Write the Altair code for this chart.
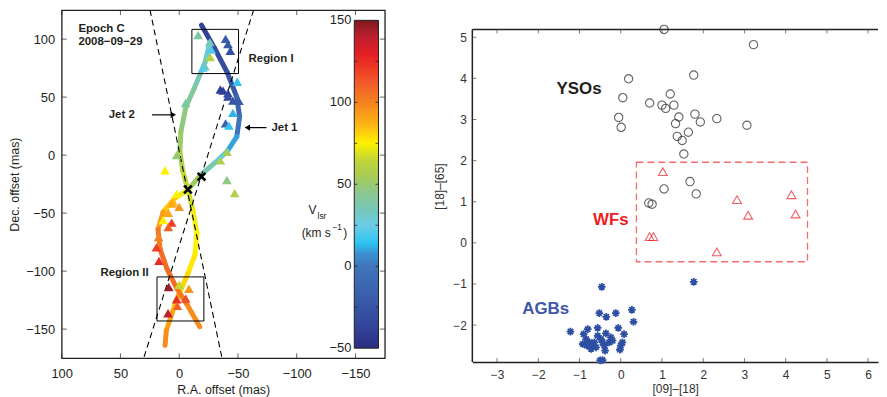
import altair as alt
import pandas as pd

FONT = "Liberation Sans"

# ---------------- Left panel data ----------------
ra_ticks = [100, 50, 0, -50, -100, -150]
dec_ticks = [100, 50, 0, -50, -100, -150]
v_ticks = [-50, 0, 50, 100, 150]
v_bar_ticks = [-25, 0, 25, 50, 75, 100, 125]

jet1_ra = [-19.0, -30.2, -41, -49, -51.4, -49, -41, -30, -17.5, -7.4, -11.6, -15, -13.5, -7.5, 0, 6, 11, 12]
jet1_dec = [112, 92, 71, 50, 33, 16, 3.4, -7, -18, -30, -47, -67, -85.5, -102, -119, -136, -151.5, -164]
jet1_v = [-42, -35, -28, -18, -8, 5, 15, 30, 45, 62, 72, 75, 76, 78, 82, 90, 95, 100]

jet2_ra = [-26, -22, -13, -5.7, -1.4, -0.6, -3, -7.4, 3.6, 13.7, 18, 16.3, 10.4, 2, -7.4, -17.5]
jet2_dec = [97, 80, 58, 41.5, 20, 3.4, -13.5, -30, -37, -49, -64, -81, -98, -115, -130, -148]
jet2_v = [28, 32, 40, 45, 50, 55, 60, 68, 76, 88, 98, 105, 108, 105, 100, 95]

tri_ra = [-16.1, -26.0, -27.4, -39.5, -41.5, -43.5, -26.3, -21.8, -20.3, -49.4,
          -35.0, -37.3, -41.5, -41.5, -45.7, -50.8, -45.7, -39.5, -42.3, -5.4,
          2.2, -40.6, -35.0, 12.1, -40.6, -47.2,
          2.2, 5.0, 6.4, 0.0, 9.3, 13.7, 6.4, 9.3, 17.5, 19.4, 17.2,
          8.9, 0.0, -8.3, 2.2, -5.5, 1.5, 9.5]
tri_dec = [103.6, 97.4, 90.9, 100.2, 95.7, 90.0, 84.5, 76.8, 75.4, 63.2,
           56.5, 55.6, 53.3, 50.5, 47.0, 46.8, 36.4, 27.4, 25.4, 44.9,
           0.0, 2.8, -4.5, -13.0, -21.4, -32.8,
           -33.3, -40.4, -41.7, -44.6, -49.7, -56.0, -58.2, -62.0, -70.7, -79.5, -91.2,
           -113.7, -111.8, -115.2, -124.3, -123.6, -130.0, -136.3]
tri_v = [40, 35, 20, -20, -25, -30, 60, 35, 20, 15,
         -40, -40, -35, -30, -25, -20, 12, -15, 15, 40,
         50, 55, 58, 75, 48, 58,
         75, 85, 90, 95, 90, 75, 120, 110, 100, 120, 125,
         145, 65, 95, 125, 115, 110, 140]

cone_id = ["a", "a", "b", "b"]
cone_ra = [24.8, -36.2, -63.3, 29.9]
cone_dec = [125, -174, 125, -174]

cross_ra = [-7.4, -19.0]
cross_dec = [-29.6, -18.6]

box_ra1 = [-10.8, 18.9]
box_ra2 = [-50.5, -21.0]
box_dec1 = [108.4, -105.0]
box_dec2 = [70.3, -143.0]

# jet-like colormap stops
cmap_v = [-50, -35, -15, 0, 8, 14, 25, 35, 45, 55, 65, 75, 85, 100, 112, 122, 130, 140, 150]
cmap_c = ["#2b2e83", "#34479c", "#3b63ae", "#3f76ba", "#3a94d2", "#2cc3f1", "#6ccde6",
          "#76c7b6", "#8cc78f", "#a8cb55", "#c4d636", "#fff200", "#fdbb13", "#f58220",
          "#f15a29", "#ee3524", "#e31e25", "#bd1f2d", "#7d1a1d"]

# ---------------- Right panel data ----------------
x_ticks = [-3, -2, -1, 0, 1, 2, 3, 4, 5, 6]
y_ticks = [-2, -1, 0, 1, 2, 3, 4, 5]

yso_x = [1.05, 3.22, 1.77, 0.19, 0.05, 1.20, 0.70, 1.00, 1.29, 1.09, -0.05, 0.01, 1.41, 1.80,
         1.33, 1.93, 2.33, 3.06, 1.64, 1.37, 1.49, 1.53, 1.68, 1.05, 1.83, 0.68, 0.76]
yso_y = [5.19, 4.82, 4.08, 3.99, 3.53, 3.62, 3.40, 3.35, 3.35, 3.27, 3.05, 2.81, 3.06, 3.13,
         2.90, 2.94, 3.02, 2.86, 2.69, 2.59, 2.49, 2.16, 1.49, 1.31, 1.19, 0.97, 0.94]

wf_x = [1.02, 2.82, 4.14, 3.09, 4.24, 0.70, 0.79, 2.33]
wf_y = [1.73, 1.05, 1.17, 0.67, 0.70, 0.15, 0.15, -0.22]

agb_x = [-0.46, 0.27, -0.52, -0.35, -0.12, 0.31, -1.22, -0.80, -0.56, -0.06, -0.90, 0.08,
         -0.36, -0.84, -0.76, -0.82, -0.68, -0.60, -0.72, -0.56, -0.48, -0.44, -0.40, -0.38,
         -0.24, -0.20, -0.28, 0.04, 0.00, -0.02, -0.50, -0.44, -0.92, -0.64, 1.77]
agb_y = [-1.07, -1.63, -1.71, -1.80, -1.71, -1.92, -2.16, -2.10, -2.07, -2.07, -2.22, -2.22,
         -2.20, -2.34, -2.42, -2.50, -2.50, -2.54, -2.58, -2.26, -2.34, -2.42, -2.50, -2.62,
         -2.30, -2.38, -2.42, -2.42, -2.50, -2.60, -2.86, -2.85, -2.46, -2.42, -0.95]

wf_box_x = [0.38, 4.53]
wf_box_y = [1.96, -0.46]

# ---------------- Left panel ----------------
XD = [100, -175]
YD = [-175, 125]
VD = [-56.07, 156.25]          # vertical placement of the colour bar inside the frame
BAR_X = [-149.0, -169.6]       # colour bar edges (R.A. units)
BAR_LABEL_X = -146.5
xs = alt.Scale(domain=XD, nice=False, zero=False)
ys = alt.Scale(domain=YD, nice=False, zero=False)
vs = alt.Scale(domain=VD, nice=False, zero=False)
xaxis = alt.Axis(values=ra_ticks, title="R.A. offset (mas)", ticks=False, grid=False, domain=False,
                 labelFont=FONT, titleFont=FONT, labelFontSize=13, titleFontSize=12.5,
                 labelColor="#231f20", titleColor="#231f20", labelPadding=9, titlePadding=4,
                 titleFontWeight="normal", labelFlush=False)
yaxis = alt.Axis(values=dec_ticks, title="Dec. offset (mas)", ticks=False, grid=False, domain=False,
                 labelFont=FONT, titleFont=FONT, labelFontSize=13, titleFontSize=12.5,
                 labelColor="#231f20", titleColor="#231f20", labelPadding=7, titlePadding=4,
                 titleFontWeight="normal", labelFlush=False)


def LX(f="x"):
    return alt.X(f, type="quantitative", scale=xs, axis=xaxis)


def LY(f="y"):
    return alt.Y(f, type="quantitative", scale=ys, axis=yaxis)


def VY(f="v"):
    return alt.Y(f, type="quantitative", scale=vs, axis=None)


cscale = alt.Scale(domain=cmap_v, range=cmap_c, clamp=True)

segs = []
for name, ra, dec, v in [("j1", jet1_ra, jet1_dec, jet1_v), ("j2", jet2_ra, jet2_dec, jet2_v)]:
    for i in range(len(ra) - 1):
        segs.append(dict(x=ra[i], y=dec[i], x2=ra[i + 1], y2=dec[i + 1], v=(v[i] + v[i + 1]) / 2, jet=name))
seg_df = pd.DataFrame(segs)

curves = alt.Chart(seg_df).mark_rule(strokeWidth=5, strokeCap="round").encode(
    x=LX(), y=LY(), x2="x2", y2="y2",
    stroke=alt.Stroke("v:Q", scale=cscale, legend=None))

cone_df = pd.DataFrame(dict(x=cone_ra, y=cone_dec, id=cone_id))
cones = alt.Chart(cone_df).mark_line(color="black", strokeWidth=1.1, strokeDash=[6, 4], clip=True).encode(
    x=LX(), y=LY(), detail="id:N")

tri_df = pd.DataFrame(dict(x=tri_ra, y=tri_dec, v=tri_v))
tris = alt.Chart(tri_df).mark_point(shape="triangle-up", filled=True, size=95, opacity=1, strokeWidth=0).encode(
    x=LX(), y=LY(), fill=alt.Fill("v:Q", scale=cscale, legend=None))

cross_df = pd.DataFrame(dict(x=cross_ra, y=cross_dec))
crosses = alt.Chart(cross_df).mark_point(shape="M-1,-1L1,1M-1,1L1,-1", size=60, color="black",
                                         strokeWidth=2.6, filled=False, opacity=1).encode(x=LX(), y=LY())

box_df = pd.DataFrame(dict(x=box_ra1, x2=box_ra2, y=box_dec1, y2=box_dec2))
boxes = alt.Chart(box_df).mark_rect(fill=None, stroke="black", strokeWidth=1).encode(
    x=LX(), x2="x2", y=LY(), y2="y2")

txt = pd.DataFrame(dict(
    x=[85.8, 85.8, -59, 67, 60, -78.5],
    y=[109, 97.2, 83, -101.6, 34.7, 23.7],
    t=["Epoch C", "2008\u221209\u221229", "Region I", "Region II", "Jet 2", "Jet 1"]))
texts = alt.Chart(txt).mark_text(align="left", baseline="middle", font=FONT, fontSize=11.5,
                                 fontWeight="bold", color="#231f20").encode(x=LX(), y=LY(), text="t:N")

arr_df = pd.DataFrame(dict(x=[23.1, -74.3], x2=[5.5, -58.5], y=[34.7, 23.7]))
arr_lines = alt.Chart(arr_df).mark_rule(color="black", strokeWidth=1.2).encode(x=LX(), x2="x2", y=LY())
head_df = pd.DataFrame(dict(x=[5.0, -58.0], y=[34.7, 23.7], s=["triangle-right", "triangle-left"]))
heads = alt.Chart(head_df).mark_point(filled=True, size=40, color="black", opacity=1).encode(
    x=LX(), y=LY(), shape=alt.Shape("s:N", scale=None))

cb_df = pd.DataFrame(dict(x=[-110.1, -104.2, -139.7], y=[-47.3, -67.0, -67.0], t=["V", "(km s", ")"]))
cb_title = alt.Chart(cb_df).mark_text(align="left", baseline="middle", font=FONT, fontSize=12,
                                      color="#231f20").encode(x=LX(), y=LY(), text="t:N")
cb_sub = pd.DataFrame(dict(x=[-117.7, -130.4], y=[-52.4, -61.9], t=["lsr", "\u22121"]))
cb_sub_t = alt.Chart(cb_sub).mark_text(align="left", baseline="middle", font=FONT, fontSize=8.5,
                                       color="#231f20").encode(x=LX(), y=LY(), text="t:N")

# inward ticks on the four sides of the frame
lt_bot = pd.DataFrame(dict(x=ra_ticks, y=[YD[0]] * len(ra_ticks)))
lt_top = pd.DataFrame(dict(x=ra_ticks, y=[YD[1]] * len(ra_ticks)))
lt_left = pd.DataFrame(dict(x=[XD[0]] * len(dec_ticks), y=dec_ticks))
lt_right = pd.DataFrame(dict(x=[XD[1]] * len(dec_ticks), y=dec_ticks))
ltk = dict(color="#231f20", size=5, thickness=1)
l_ticks = [
    alt.Chart(lt_bot).mark_tick(orient="vertical", yOffset=-2.5, **ltk).encode(x=LX(), y=LY()),
    alt.Chart(lt_top).mark_tick(orient="vertical", yOffset=2.5, **ltk).encode(x=LX(), y=LY()),
    alt.Chart(lt_left).mark_tick(orient="horizontal", xOffset=2.5, **ltk).encode(x=LX(), y=LY()),
    alt.Chart(lt_right).mark_tick(orient="horizontal", xOffset=-2.5, **ltk).encode(x=LX(), y=LY()),
]

main = alt.layer(curves, cones, tris, crosses, boxes, texts, arr_lines, heads, cb_title, cb_sub_t, *l_ticks)

# colour bar (gradient filled rectangle built from the colormap stops)
span = cmap_v[-1] - cmap_v[0]
grad = alt.Gradient(gradient="linear", x1=0, x2=0, y1=1, y2=0,
                    stops=[alt.GradientStop(offset=(v - cmap_v[0]) / span, color=c)
                           for v, c in zip(cmap_v, cmap_c)])
bar_df = pd.DataFrame(dict(x=[BAR_X[0]], x2=[BAR_X[1]], v=[cmap_v[0]], v2=[cmap_v[-1]]))
bar = alt.Chart(bar_df).mark_rect(fill=grad, strokeWidth=0).encode(
    x=LX(), x2="x2", y=VY(), y2="v2")
bar_edge = alt.Chart(bar_df).mark_rect(fill=None, stroke="#231f20", strokeWidth=1).encode(
    x=LX(), x2="x2", y=VY(), y2="v2")
bl_df = pd.DataFrame(dict(x=[BAR_LABEL_X] * len(v_ticks), v=v_ticks))
bar_labels = alt.Chart(bl_df).mark_text(align="right", baseline="middle", font=FONT, fontSize=13,
                                        color="#231f20").encode(
    x=LX(), y=VY(), text=alt.Text("v:Q", format="d"))
bt_l = pd.DataFrame(dict(x=[BAR_X[0]] * len(v_bar_ticks), v=v_bar_ticks))
bt_r = pd.DataFrame(dict(x=[BAR_X[1]] * len(v_bar_ticks), v=v_bar_ticks))
btk = dict(color="#231f20", size=3, thickness=1, opacity=0.8)
bar_ticks = [
    alt.Chart(bt_l).mark_tick(orient="horizontal", xOffset=1.5, **btk).encode(x=LX(), y=VY()),
    alt.Chart(bt_r).mark_tick(orient="horizontal", xOffset=-1.5, **btk).encode(x=LX(), y=VY()),
]
cbar = alt.layer(bar, bar_edge, bar_labels, *bar_ticks)

left = alt.layer(main, cbar).resolve_scale(y="independent").properties(
    width=325, height=350, view=alt.ViewBackground(stroke="#231f20", strokeWidth=1.3))

# ---------------- Right panel ----------------
RXD = [-3.6, 6.24]
RYD = [-2.9, 5.66]
R_TOP = 5.19
rxs = alt.Scale(domain=RXD, nice=False, zero=False)
rys = alt.Scale(domain=RYD, nice=False, zero=False)
rxaxis = alt.Axis(values=x_ticks, title="[09]\u2013[18]", ticks=False, grid=False, domain=True,
                  domainColor="#231f20", domainWidth=1.5,
                  labelFont=FONT, titleFont=FONT, labelFontSize=12, titleFontSize=12,
                  labelColor="#333", titleColor="#333", labelPadding=8, titlePadding=3,
                  titleFontWeight="normal", labelFlush=False)
ryaxis = alt.Axis(values=y_ticks, title="[18]\u2013[65]", ticks=False, grid=False, domain=False,
                  labelFont=FONT, titleFont=FONT, labelFontSize=12, titleFontSize=12,
                  labelColor="#333", titleColor="#333", labelPadding=6, titlePadding=6,
                  titleFontWeight="normal", labelFlush=False)


def RX(f="x"):
    return alt.X(f, type="quantitative", scale=rxs, axis=rxaxis)


def RY(f="y"):
    return alt.Y(f, type="quantitative", scale=rys, axis=ryaxis)


yso = alt.Chart(pd.DataFrame(dict(x=yso_x, y=yso_y))).mark_point(
    shape="circle", size=70, color="#231f20", strokeWidth=1.1, filled=False).encode(x=RX(), y=RY())
wf = alt.Chart(pd.DataFrame(dict(x=wf_x, y=wf_y))).mark_point(
    shape="triangle-up", size=80, color="#ed1c24", strokeWidth=1.1, filled=False).encode(x=RX(), y=RY())
agb = alt.Chart(pd.DataFrame(dict(x=agb_x, y=agb_y))).mark_point(
    shape="M0,-1L0,1M-1,0L1,0M-0.7,-0.7L0.7,0.7M-0.7,0.7L0.7,-0.7", size=60, color="#2d4fa3",
    strokeWidth=1.8, filled=False, opacity=1).encode(x=RX(), y=RY())
wfbox = alt.Chart(pd.DataFrame(dict(x=[wf_box_x[0]], x2=[wf_box_x[1]], y=[wf_box_y[0]], y2=[wf_box_y[1]]))).mark_rect(
    fill=None, stroke="#f26d6d", strokeWidth=1.3, strokeDash=[7, 4]).encode(x=RX(), x2="x2", y=RY(), y2="y2")
toprule = alt.Chart(pd.DataFrame(dict(y=[R_TOP]))).mark_rule(color="#231f20", strokeWidth=1.5).encode(y=RY())
leftrule = alt.Chart(pd.DataFrame(dict(x=[RXD[0]], y=[RYD[0]], y2=[R_TOP]))).mark_rule(
    color="#231f20", strokeWidth=1.5).encode(x=RX(), y=RY(), y2="y2")

rt_bot = pd.DataFrame(dict(x=x_ticks, y=[RYD[0]] * len(x_ticks)))
rt_top = pd.DataFrame(dict(x=x_ticks, y=[R_TOP] * len(x_ticks)))
rt_left = pd.DataFrame(dict(x=[RXD[0]] * len(y_ticks), y=y_ticks))
rtk = dict(color="#444", size=4, thickness=1)
r_ticks = [
    alt.Chart(rt_bot).mark_tick(orient="vertical", yOffset=-2, **rtk).encode(x=RX(), y=RY()),
    alt.Chart(rt_top).mark_tick(orient="vertical", yOffset=2, **rtk).encode(x=RX(), y=RY()),
    alt.Chart(rt_left).mark_tick(orient="horizontal", xOffset=2, **rtk).encode(x=RX(), y=RY()),
]

lab = pd.DataFrame(dict(x=[-1.01, -0.24, -1.82], y=[3.74, 0.55, -1.62], t=["YSOs", "WFs", "AGBs"],
                        c=["#231f20", "#ed1c24", "#3f57a8"]))
labels = alt.Chart(lab).mark_text(font=FONT, fontSize=17, fontWeight="bold", align="center",
                                  baseline="middle").encode(x=RX(), y=RY(), text="t:N",
                                                            color=alt.Color("c:N", scale=None))

right = alt.layer(wfbox, toprule, leftrule, *r_ticks, yso, wf, agb, labels).properties(
    width=408, height=354, view=alt.ViewBackground(stroke=None))

chart = alt.hconcat(left, right, spacing=48).properties(padding=0).configure(background="white")

chart.save("out.html", embed_options={"renderer": "svg", "actions": False})
